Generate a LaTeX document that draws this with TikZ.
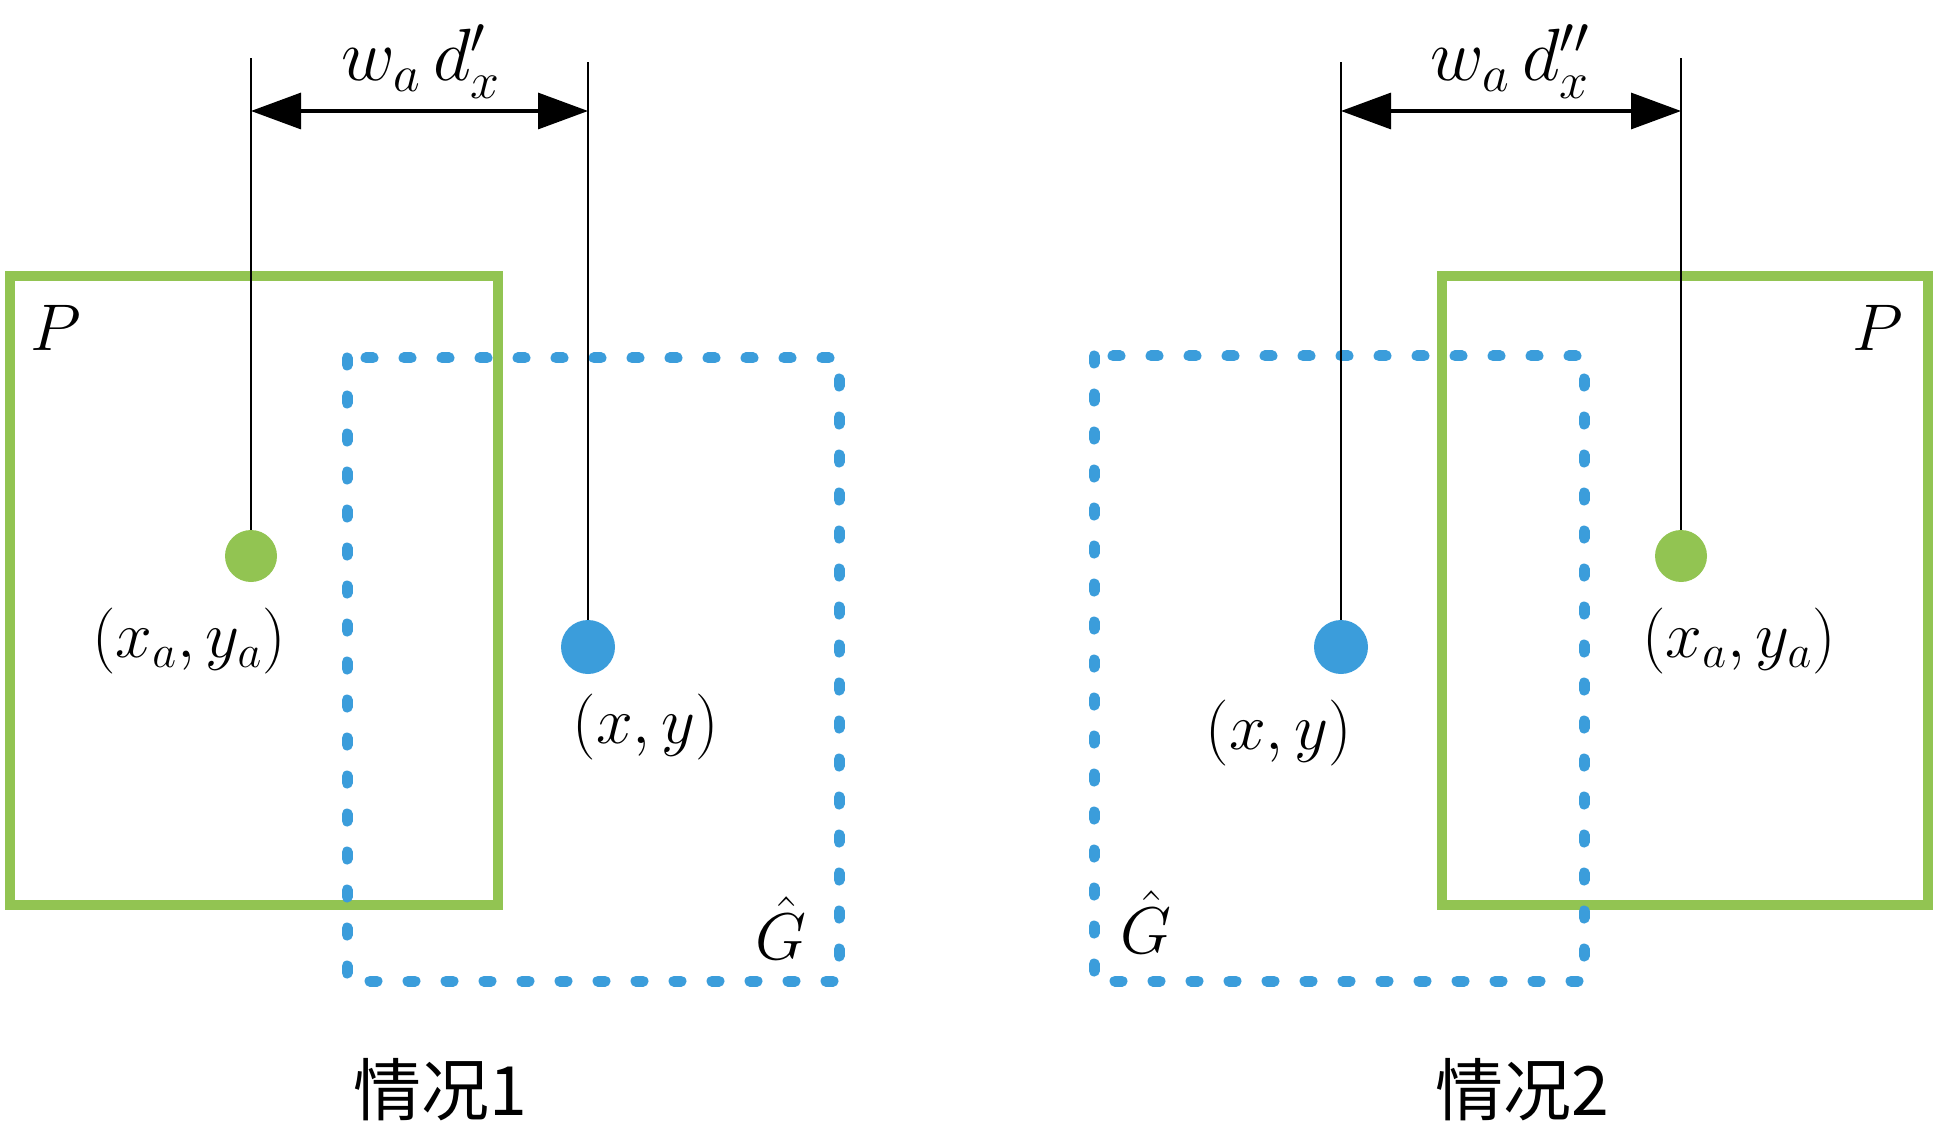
\RequirePackage{fix-cm}
\documentclass[tikz,border=0pt]{standalone}
\usepackage{fontspec}
\newfontfamily\cjk{Noto Sans CJK SC}
\usetikzlibrary{arrows.meta}
\definecolor{boxgreen}{RGB}{146,196,82}
\definecolor{boxblue}{RGB}{59,157,219}
\tikzset{
  gbox/.style={draw=boxgreen, line width=5pt},
  bbox/.style={draw=boxblue, line width=5.5pt, line cap=round, dash pattern=on 3.5pt off 15.5pt},
  gdot/.style={circle, fill=boxgreen, inner sep=0pt, minimum size=26pt},
  bdot/.style={circle, fill=boxblue, inner sep=0pt, minimum size=27pt},
  lead/.style={draw=black, line width=1.1pt},
  dim/.style={draw=black, line width=1.6pt, {Triangle[length=25pt,width=18pt]}-{Triangle[length=25pt,width=18pt]}},
  lbl/.style={font=\fontsize{33}{38}\selectfont, inner sep=0pt},
  toplbl/.style={font=\fontsize{37}{42}\selectfont, inner sep=0pt},
  case/.style={font=\cjk\fontsize{34}{40}\selectfont, inner sep=0pt},
}
\begin{document}
\begin{tikzpicture}[x=0.5pt,y=-0.5pt]
  \useasboundingbox (0,0) rectangle (1942,1144);
  % case 1
  \draw[gbox] (10,276) rectangle (498,905);
  \draw[bbox] (347,358) rectangle (839,981);
  \node[gdot] (a1) at (251,556) {};
  \node[bdot] (b1) at (588,647) {};
  \coordinate (a1top) at (251,58);
  \coordinate (b1top) at (588,62);
  \coordinate (a1dim) at (251,111);
  \coordinate (b1dim) at (588,111);
  \begin{scope}[lead]
    \draw (a1) to (a1top);
    \draw (b1) to (b1top);
  \end{scope}
  \draw[dim] (a1dim) to (b1dim);
  \node[toplbl] (d1) at (421,62) {$w_a\,d'_x$};
  \node[lbl] (p1) at (56,328) {$P$};
  \node[lbl] (g1) at (781,928) {$\hat{G}$};
  \node[lbl] (a1lbl) at (189,641) {$(x_a,y_a)$};
  \node[lbl] (b1lbl) at (646,727) {$(x,y)$};
  \node[case] (c1) at (440,1090) {情况1};
  % case 2
  \draw[gbox] (1442,276) rectangle (1928,905);
  \draw[bbox] (1094,356) rectangle (1584,981);
  \node[gdot] (a2) at (1681,556) {};
  \node[bdot] (b2) at (1341,647) {};
  \coordinate (a2top) at (1681,58);
  \coordinate (b2top) at (1341,62);
  \coordinate (a2dim) at (1681,111);
  \coordinate (b2dim) at (1341,111);
  \begin{scope}[lead]
    \draw (a2) to (a2top);
    \draw (b2) to (b2top);
  \end{scope}
  \draw[dim] (b2dim) to (a2dim);
  \node[toplbl] (d2) at (1510,62) {$w_a\,d''_x$};
  \node[lbl] (p2) at (1878,328) {$P$};
  \node[lbl] (g2) at (1146,922) {$\hat{G}$};
  \node[lbl] (a2lbl) at (1739,641) {$(x_a,y_a)$};
  \node[lbl] (b2lbl) at (1279,733) {$(x,y)$};
  \node[case] (c2) at (1522,1090) {情况2};
\end{tikzpicture}
\end{document}
